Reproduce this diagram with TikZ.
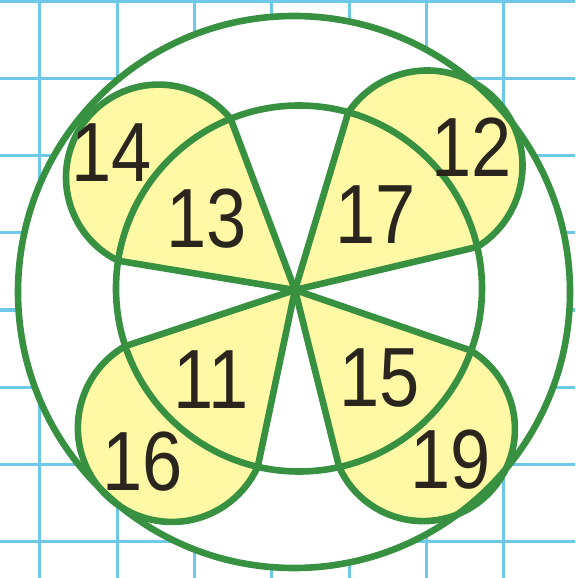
\documentclass[tikz,border=0pt]{standalone}
\usepackage{fontspec}
\newfontfamily\numfont{Liberation Sans}
\usetikzlibrary{calc}
\definecolor{gridblue}{RGB}{110,200,232}
\definecolor{leafgreen}{RGB}{55,145,65}
\definecolor{leafyellow}{RGB}{255,249,165}
\definecolor{inkdark}{RGB}{42,38,30}

\begin{document}
\begin{tikzpicture}[
  x=0.5pt, y=0.5pt,
  gridline/.style={gridblue, line width=1.5pt},
  g/.style={leafgreen, line width=3.3pt},
  lobe/.style={fill=leafyellow},
  num/.style={font=\numfont\fontsize{42}{42}\selectfont, text=inkdark,
    inner sep=0pt, xscale=0.86, transform shape},
]
\useasboundingbox (-295,-288) rectangle (280,290);
\pgfmathsetmacro{\RI}{183}
\pgfmathsetmacro{\RO}{276}

% Squared paper
\foreach \k in {0,...,6} {
  \draw[gridline] ({-255+77.3*\k},-288) -- ({-255+77.3*\k},290);
}
\foreach \k in {0,...,7} {
  \draw[gridline] (-295,{288-77*\k}) -- (280,{288-77*\k});
}

\coordinate (O) at (0,0);
\coordinate (CO) at (-1,-2);
\coordinate (CI) at (4,1.5);
\fill[white] (CO) circle (\RO);

% Petals: wedge from the centre plus outer lobe
\foreach \a/\b/\bulge/\n in {110.6/170.6/20/1, 13.3/73.3/20/2, 198.3/258.1/29/3, 284/341/27/4} {
  % spoke ends on the inner circle
  \pgfmathsetmacro{\ua}{4*cos(\a)+1.5*sin(\a)}
  \pgfmathsetmacro{\sa}{\ua+veclen(\ua,182.95)}
  \pgfmathsetmacro{\ub}{4*cos(\b)+1.5*sin(\b)}
  \pgfmathsetmacro{\sb}{\ub+veclen(\ub,182.95)}
  \coordinate (A\n) at (\a:\sa);
  \coordinate (B\n) at (\b:\sb);
  \pgfmathsetmacro{\ax}{\sa*cos(\a)}
  \pgfmathsetmacro{\ay}{\sa*sin(\a)}
  \pgfmathsetmacro{\bx}{\sb*cos(\b)}
  \pgfmathsetmacro{\by}{\sb*sin(\b)}
  \pgfmathsetmacro{\half}{veclen(\bx-\ax,\by-\ay)/2}
  \pgfmathsetmacro{\ccx}{(\ax+\bx)/2+\bulge*(\by-\ay)/(2*\half)}
  \pgfmathsetmacro{\ccy}{(\ay+\by)/2-\bulge*(\bx-\ax)/(2*\half)}
  \pgfmathsetmacro{\rad}{veclen(\half,\bulge)}
  \pgfmathsetmacro{\angA}{atan2(\ay-\ccy,\ax-\ccx)}
  \pgfmathsetmacro{\angB}{atan2(\by-\ccy,\bx-\ccx)}
  \pgfmathsetmacro{\sweep}{mod(\angB-\angA+720,360)}
  \fill[lobe] (O) -- (A\n) arc[start angle=\angA, delta angle=\sweep, radius=\rad] -- cycle;
  \draw[g] (A\n) arc[start angle=\angA, delta angle=\sweep, radius=\rad];
}

% Spokes
\foreach \n in {1,...,4} {
  \draw[g] (O) -- (A\n);
  \draw[g] (O) -- (B\n);
}

% Circles
\draw[g] (CI) circle (\RI);
\draw[g] (CO) circle (\RO);

% Numbers
\foreach \lbl/\x/\y in {14/-183/137, 13/-88/71, 17/81/75, 12/177/143,
                       11/-84/-90, 16/-152/-172, 15/85/-88, 19/156/-170} {
  \node[num] (n\lbl) at (\x,\y) {\lbl};
}
\end{tikzpicture}
\end{document}
